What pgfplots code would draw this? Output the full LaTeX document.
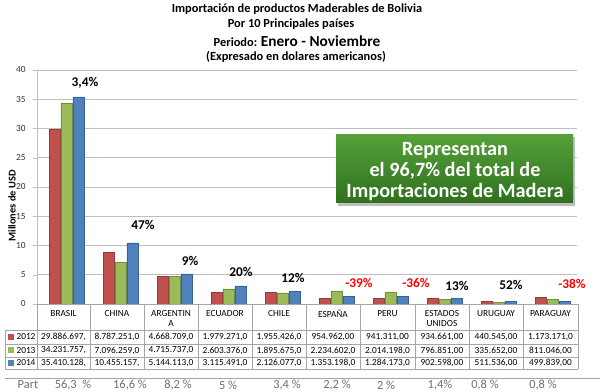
\documentclass[border=0pt]{standalone}
\usepackage{pgfplots}
\pgfplotsset{compat=1.18}
\usepackage{fontspec}
\setmainfont{Carlito}
\definecolor{cR}{HTML}{C0504D}
\definecolor{cG}{HTML}{9BBB59}
\definecolor{cB}{HTML}{4F81BD}
\definecolor{gridc}{HTML}{BFBFBF}
\definecolor{tabc}{HTML}{A6A6A6}
\definecolor{boxtop}{HTML}{55A03A}
\definecolor{boxbot}{HTML}{30701F}
\definecolor{partc}{HTML}{6F6F6F}
\begin{document}
\begin{tikzpicture}
\path[use as bounding box] (0,0) rectangle (450pt,294pt);
\begin{axis}[at={(27.75pt,66pt)}, anchor=south west, scale only axis,
  width=405pt, height=175.5pt,
  xmin=-0.5, xmax=9.5, ymin=0, ymax=40, ytick={0,5,...,40}, xtick=\empty,
  ymajorgrids, grid style={gridc, line width=0.6pt},
  axis line style={draw=none},
  ytick pos=left, tick align=outside, major tick length=3pt, tick style={gridc},
  yticklabel style={font=\fontsize{7}{8}\selectfont, text=black!80, xshift=-2pt},
  /pgf/number format/assume math mode=true,
  ybar=0pt, bar width=0.215, clip=false]
\addplot[fill=cR, draw=cR!75!black, bar shift=-0.17] coordinates {
 (0,29.886697) (1,8.787251) (2,4.668709) (3,1.979271) (4,1.955426)
 (5,0.954962) (6,0.941311) (7,0.934661) (8,0.440545) (9,1.173171)};
\addplot[fill=cG, draw=cG!75!black, bar shift=0.05] coordinates {
 (0,34.231757) (1,7.096259) (2,4.715737) (3,2.603376) (4,1.895675)
 (5,2.234602) (6,2.014198) (7,0.796851) (8,0.335652) (9,0.811046)};
\addplot[fill=cB, draw=cB!75!black, bar shift=0.27] coordinates {
 (0,35.410128) (1,10.455157) (2,5.144113) (3,3.115491) (4,2.126077)
 (5,1.353198) (6,1.284173) (7,0.902598) (8,0.511536) (9,0.499839)};
\end{axis}
\begin{scope}[x=0.75pt, y=-0.75pt, shift={(0pt,294pt)}]
% titles
\node[font=\fontsize{9.3}{11}\selectfont\bfseries] at (297,9) {Importación de productos Maderables de Bolivia};
\node[font=\fontsize{9.3}{11}\selectfont\bfseries] at (291,24) {Por 10 Principales países};
\node[font=\fontsize{9.3}{11}\selectfont\bfseries] at (297,41) {Periodo: {\fontsize{11.5}{13}\selectfont Enero - Noviembre}};
\node[font=\fontsize{9.3}{11}\selectfont\bfseries] at (296,57) {(Expresado en dolares americanos)};
% y label
\node[font=\fontsize{7.8}{9}\selectfont\bfseries, rotate=90] at (12,206) {Millones de USD};
% left axis line
\draw[gridc, line width=0.6pt] (37,304) -- (37,70);
% percent labels
\begin{scope}[every node/.style={font=\fontsize{10}{12}\selectfont\bfseries}]
\node at (85,83) {3,4\%};
\node at (143,225) {47\%};
\node at (190,261) {9\%};
\node at (241,272) {20\%};
\node at (293,278) {12\%};
\node[text=red] at (359,283) {-39\%};
\node[text=red] at (416,283) {-36\%};
\node at (457,286) {13\%};
\node at (511,285) {52\%};
\node[text=red] at (572,284) {-38\%};
\end{scope}
% green box
\fill[black!25] (338,137) rectangle (575,206);
\shade[top color=boxtop, bottom color=boxbot] (336,135) rectangle (573,203);
\node[text=white, align=center, font=\fontsize{15.2}{15.4}\selectfont\bfseries] at (455,171.5)
 {Representan\\el 96,7\% del total de\\Importaciones de Madera};
% table grid
\draw[tabc, line width=0.5pt] (37,304) -- (578,304);
\foreach \x in {37,90,144,198,252,306,360,415,469,523,578}
  \draw[tabc, line width=0.5pt] (\x,304) -- (\x,369);
\foreach \y in {330,344,357,369}
  \draw[tabc, line width=0.5pt] (5,\y) -- (578,\y);
\draw[tabc, line width=0.5pt] (5,330) -- (5,369);
\draw[tabc, line width=0.6pt] (5,378) -- (600,378);
% legend cells
\fill[cR] (8,334) rectangle (14,340);
\fill[cG] (8,347.5) rectangle (14,353.5);
\fill[cB] (8,360) rectangle (14,366);
\begin{scope}[every node/.style={font=\fontsize{7}{7.5}\selectfont, inner sep=0pt}]
\node at (26,337) {2012};
\node at (26,350.5) {2013};
\node at (26,363) {2014};
\foreach \x/\h/\a/\b/\c in {
 63.5/BRASIL/{29.886.697,}/{34.231.757,}/{35.410.128,},
 117/CHINA/{8.787.251,0}/{7.096.259,0}/{10.455.157,},
 171/{ARGENTIN\\A}/{4.668.709,0}/{4.715.737,0}/{5.144.113,0},
 225/ECUADOR/{1.979.271,0}/{2.603.376,0}/{3.115.491,0},
 279/CHILE/{1.955.426,0}/{1.895.675,0}/{2.126.077,0},
 333/ESPAÑA/{954.962,00}/{2.234.602,0}/{1.353.198,0},
 387.5/PERU/{941.311,00}/{2.014.198,0}/{1.284.173,0},
 442/{ESTADOS\\UNIDOS}/{934.661,00}/{796.851,00}/{902.598,00},
 496/URUGUAY/{440.545,00}/{335.652,00}/{511.536,00},
 550.5/PARAGUAY/{1.173.171,0}/{811.046,00}/{499.839,00}}{
  \node[anchor=north, align=center] at (\x,310) {\h};
  \node at (\x,337) {\a};
  \node at (\x,350.5) {\b};
  \node at (\x,363) {\c};
}
\end{scope}
% part row
\begin{scope}[every node/.style={font=\fontsize{9.3}{10}\selectfont, text=partc, inner sep=0pt}]
\node at (28,385) {Part};
\foreach \x/\p in {73/{56,3~~\%},130/{16,6~\%},178/{8,2~\%},228/{5~\%},287/{3,4~\%},
  337/{2,2~\%},386/{2~\%},440/{1,4\%},485/{0,8~\%},543/{0,8~\%}}
  \node at (\x,385) {\p};
\end{scope}
\end{scope}
\end{tikzpicture}
\end{document}
